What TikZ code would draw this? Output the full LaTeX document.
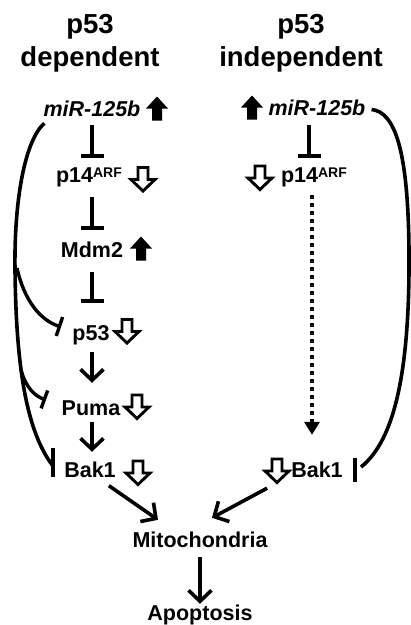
\documentclass[tikz,border=0pt]{standalone}
\usepackage{fontspec}
\setmainfont{Liberation Sans}
\usetikzlibrary{arrows.meta,calc}
\tikzset{
  txt/.style={font=\bfseries\fontsize{21.5}{24}\selectfont, inner sep=0pt,
    text height=15.5pt, text depth=4.5pt, anchor=base},
  hdr/.style={font=\bfseries\fontsize{27.5}{30}\selectfont, inner sep=0pt, anchor=base},
  inhib/.style={line width=3.6pt, -{Bar[width=23pt]}},
  act/.style={line width=3.6pt, -{Straight Barb[length=11pt,width=23pt]}},
  link/.style={line width=3.6pt},
  dots/.style={line width=4pt, dash pattern=on 4pt off 4pt,
    -{Triangle[length=13pt,width=15pt]}},
  upfill/.pic={\fill (-5,12) -- (-5,0) -- (-11,0) -- (0,-12)
      -- (11,0) -- (5,0) -- (5,12) -- cycle;},
  dnopen/.pic={\draw[line width=2.9pt, fill=white, line join=miter]
      (-5,-11.5) -- (-5,0.5) -- (-12,0.5) -- (0,12) -- (12,0.5) -- (5,0.5)
      -- (5,-11.5) -- cycle;}
}
\newcommand{\arfsup}{{\fontsize{14}{14}\selectfont\raisebox{5pt}{ARF}}}
\begin{document}
\begin{tikzpicture}[x=1pt,y=-1pt]
\useasboundingbox (0,0) rectangle (411,625);

% column headings
\node[hdr] (hdrLa) at (90,33) {p53};
\node[hdr] (hdrLb) at (90,66) {dependent};
\node[hdr] (hdrRa) at (301,33) {p53};
\node[hdr] (hdrRb) at (301,66) {independent};

% p53 dependent pathway
\node[txt] (mirL)  at (92,116) {\textit{miR-125b}};
\node[txt] (p14L)  at (89,182) {p14\arfsup};
\node[txt] (mdmL)  at (92,257) {Mdm2};
\node[txt] (p53L)  at (91,340) {p53};
\node[txt] (pumaL) at (91,415) {Puma};
\node[txt] (bakL)  at (90,477) {Bak1};

% p53 independent pathway
\node[txt] (mirR) at (317,115) {\textit{miR-125b}};
\node[txt] (p14R) at (314,182) {p14\arfsup};
\node[txt] (bakR) at (317,477) {Bak1};

% common end
\node[txt] (mito) at (200,547) {Mitochondria};
\node[txt] (apop) at (200,620) {Apoptosis};

% level indicators
\pic at (157,108.5) {upfill};
\pic at (143,179) {dnopen};
\pic at (141,248.5) {upfill};
\pic at (127,331) {dnopen};
\pic at (137,406.5) {dnopen};
\pic at (138,472.5) {dnopen};
\pic at (252,107.5) {upfill};
\pic at (260,177.5) {dnopen};
\pic at (277,470.5) {dnopen};

% left chain
\draw[inhib, shorten <=4.5pt, shorten >=8.5pt] (mirL.south) -- (mirL.south |- p14L.north);
\draw[inhib, shorten <=10.5pt, shorten >=11.5pt] (mirL.south |- p14L.south) -- (mirL.south |- mdmL.north);
\draw[inhib, shorten <=10.5pt, shorten >=21.5pt] (mirL.south |- mdmL.south) -- (mirL.south |- p53L.north);
\draw[act, shorten <=7.5pt, shorten >=16.5pt] (mirL.south |- p53L.south) -- (mirL.south |- pumaL.north);
\draw[act, shorten <=2.5pt, shorten >=9.5pt] (mirL.south |- pumaL.south) -- (mirL.south |- bakL.north);

% direct repression of Bak1, p53 and Puma
\draw[link] ([shift={(1,2.5)}]mirL.south west) .. controls (25,140) and (14,200) .. (15,270)
  .. controls (16,360) and (25,430) .. (53,466);
\draw[link] (53,448) -- (53,477);
\draw[line width=3.4pt, -{Bar[width=20pt]}] (17,268) .. controls (24,300) and (40,320) .. (61,327);
\draw[line width=3.4pt, -{Bar[width=19pt]}] (21,370) .. controls (26,388) and (35,396) .. (46,400);

% right chain
\draw[inhib, shorten <=5.5pt, shorten >=8.5pt] ([xshift=-8pt]mirR.south) -- ([xshift=-8pt]mirR.south |- p14R.north);
\draw[dots, shorten <=8.5pt, shorten >=26.5pt] ([xshift=-2pt]p14R.south) -- ([xshift=-2pt]p14R.south |- bakR.north);
\draw[link] ([xshift=6pt]mirR.east) .. controls (395,112) and (408,150) .. (409,250)
  .. controls (410,370) and (395,440) .. (361,467);
\draw[link] (355,458) -- (355,482);

% towards mitochondria and apoptosis
\draw[act] ($(bakL.south east)+(-7,4)$) -- ($(mito.north)+(-42,-11.5)$);
\draw[act] ($(bakR.south west)+(-24,6.5)$) -- ($(mito.north)+(12,-13.5)$);
\draw[act, shorten <=5.5pt, shorten >=0.5pt] (mito.south) -- (apop.north);
\end{tikzpicture}
\end{document}
